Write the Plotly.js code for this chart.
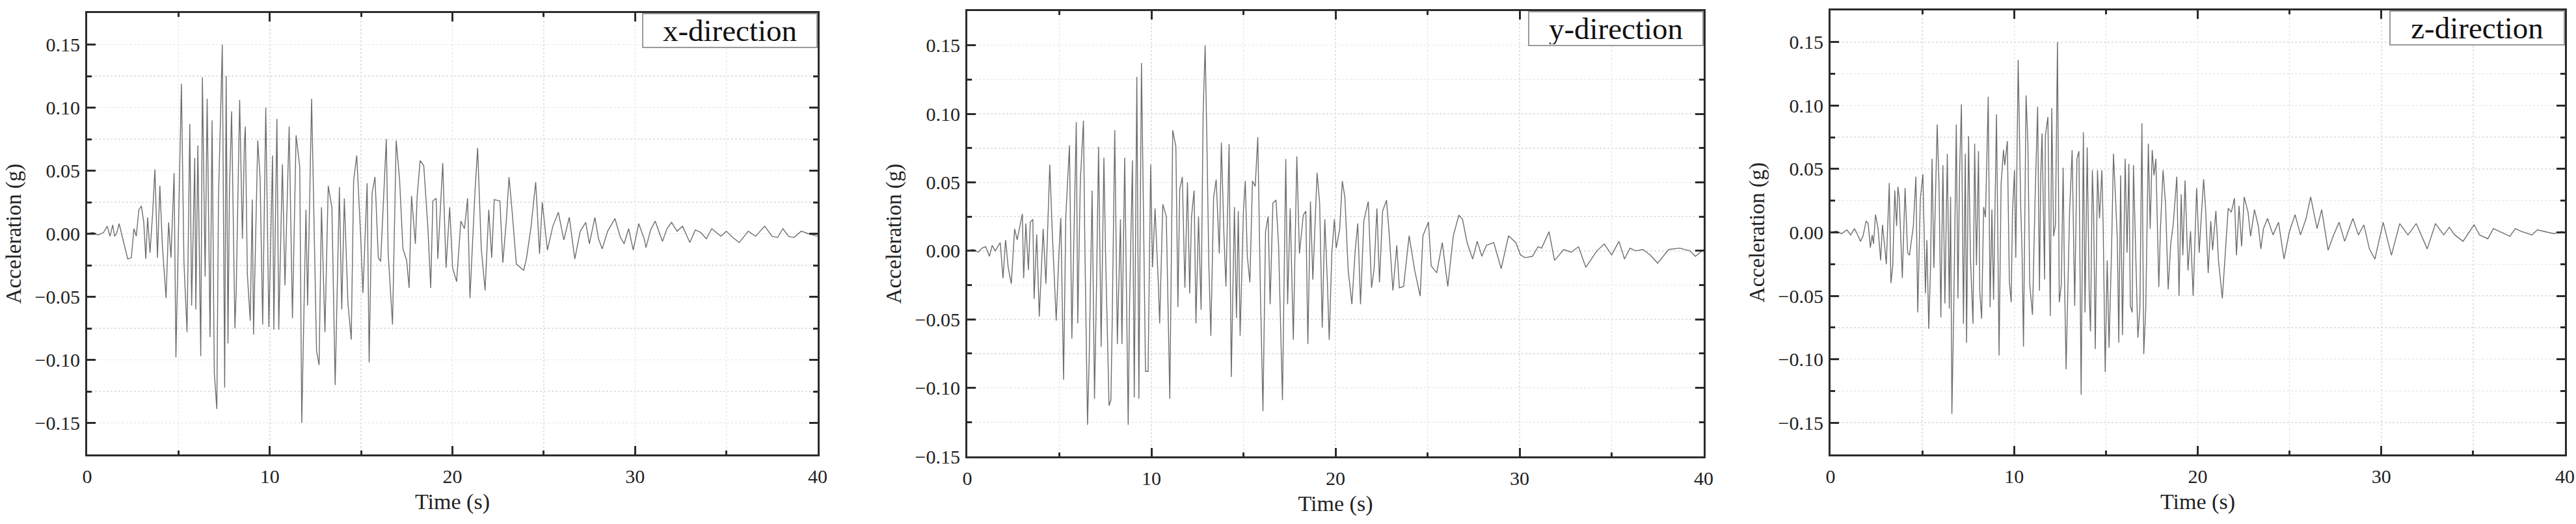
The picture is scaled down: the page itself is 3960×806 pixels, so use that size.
<!DOCTYPE html>
<html>
<head>
<meta charset="utf-8">
<script src="https://cdn.plot.ly/plotly-3.0.1.min.js"></script>
<style>html,body{margin:0;padding:0;background:#fff;}#chart{width:3960px;height:806px;}</style>
</head>
<body>
<div id="chart"></div>
<script>
// ---- Data (time in s, acceleration in g) ----
const tX = [0,0.3,0.6,0.9,1.1,1.25,1.4,1.5,1.61,1.75,1.95,2.22,2.42,2.56,2.69,2.83,2.97,3.10,3.21,3.31,3.44,3.58,3.71,3.85,3.98,4.12,4.32,4.46,4.59,4.76,4.86,4.97,5.16,5.30,5.47,5.62,5.72,5.89,5.95,6.06,6.22,6.31,6.46,6.57,6.73,6.84,6.96,7.10,7.19,7.40,7.53,7.61,7.71,7.79,7.91,8.09,8.16,8.35,8.50,8.61,8.66,8.77,8.93,9.04,9.11,9.34,9.47,9.61,9.78,9.95,10.15,10.22,10.39,10.49,10.69,10.83,11.06,11.24,11.44,11.64,11.75,11.98,12.07,12.29,12.45,12.56,12.70,12.83,13.02,13.20,13.40,13.58,13.81,13.94,14.08,14.28,14.46,14.59,14.76,14.97,15.10,15.33,15.44,15.60,15.76,15.94,16.07,16.27,16.38,16.48,16.72,16.92,17.11,17.29,17.49,17.63,17.76,17.97,18.07,18.23,18.43,18.66,18.81,18.93,19.11,19.20,19.47,19.65,19.85,20.01,20.23,20.46,20.66,20.83,20.96,21.23,21.38,21.58,21.79,21.99,22.15,22.29,22.60,22.76,22.95,23.10,23.25,23.50,23.90,24.05,24.30,24.56,24.77,24.92,25.20,25.50,25.80,26.10,26.40,26.70,27.00,27.30,27.50,27.80,28.00,28.20,28.50,28.90,29.20,29.40,29.65,29.90,30.20,30.50,30.60,30.85,31.10,31.50,31.75,32.00,32.30,32.60,33.00,33.30,33.60,33.90,34.20,34.70,35.00,35.35,35.70,36.20,36.60,37.10,37.50,37.80,38.10,38.40,38.70,39.10,39.50,40.0];
const aX = [0,0.001,-0.001,0.001,0.006,-0.002,0.007,-0.002,0.000,0.008,-0.004,-0.020,-0.019,0.004,-0.002,0.019,0.022,0.009,-0.020,0.013,-0.015,0.015,0.051,-0.019,0.038,-0.010,-0.051,0.009,-0.019,0.048,-0.098,-0.017,0.119,-0.023,-0.078,0.087,-0.057,0.060,-0.060,0.070,-0.097,0.124,-0.034,0.107,-0.082,0.090,-0.110,-0.139,0.028,0.150,-0.122,0.125,-0.087,0.034,0.097,-0.075,-0.046,0.106,-0.004,0.072,0.085,-0.032,-0.069,0.027,-0.080,0.074,0.044,-0.072,0.100,-0.074,0.062,-0.076,0.091,-0.076,0.055,-0.041,0.085,-0.067,0.078,0.053,-0.150,0.019,-0.057,0.107,-0.015,-0.093,-0.104,0.021,-0.078,0.038,0.021,-0.120,0.037,-0.060,0.028,-0.055,-0.084,0.042,0.062,0.000,-0.047,0.040,-0.102,0.032,0.045,-0.019,-0.022,0.041,0.075,-0.015,-0.072,0.074,0.042,-0.012,-0.021,-0.043,0.030,-0.008,0.030,0.058,0.054,0.004,-0.043,0.026,0.028,-0.020,0.056,-0.027,0.021,-0.027,-0.038,0.010,0.004,0.028,-0.051,0.032,0.068,-0.012,-0.045,0.019,-0.019,0.027,0.026,-0.023,0.010,0.045,0.021,-0.024,-0.029,-0.020,0.005,0.041,-0.016,0.025,-0.013,0.006,0.017,-0.005,0.013,-0.020,0.002,0.009,-0.008,0.013,-0.004,-0.012,0.002,0.012,-0.003,-0.008,0.004,-0.013,0.008,-0.004,-0.011,0.003,0.010,-0.006,0.004,0.009,0.002,0.006,-0.007,0.003,0.001,-0.004,0.004,-0.002,0.002,-0.003,-0.007,0.002,-0.002,0.006,-0.002,-0.003,0.004,-0.002,-0.003,0.002,0.000,-0.002];

const tY = [0,0.3,0.6,0.8,1.0,1.2,1.35,1.51,1.79,1.94,2.08,2.22,2.39,2.57,2.71,2.85,2.99,3.06,3.18,3.32,3.42,3.56,3.63,3.77,3.91,4.12,4.27,4.48,4.62,4.83,4.97,5.08,5.23,5.35,5.55,5.68,5.92,6.00,6.14,6.31,6.38,6.53,6.62,6.78,6.91,7.02,7.13,7.27,7.42,7.51,7.70,7.80,7.87,8.01,8.15,8.32,8.40,8.55,8.74,8.81,8.97,9.07,9.21,9.32,9.46,9.56,9.68,9.82,9.96,10.06,10.20,10.38,10.45,10.62,10.81,11.00,11.16,11.33,11.44,11.54,11.68,11.82,11.96,12.08,12.18,12.32,12.42,12.56,12.70,12.81,12.92,13.02,13.12,13.23,13.38,13.52,13.69,13.80,13.94,14.05,14.22,14.34,14.51,14.62,14.72,14.82,15.00,15.10,15.21,15.35,15.49,15.64,15.78,15.92,16.06,16.20,16.34,16.45,16.60,16.77,16.91,17.12,17.30,17.40,17.54,17.71,17.90,18.04,18.25,18.39,18.50,18.64,18.77,19.00,19.14,19.28,19.42,19.56,19.66,19.80,19.94,20.04,20.23,20.37,20.51,20.69,20.89,21.07,21.21,21.36,21.54,21.78,21.96,22.10,22.25,22.39,22.56,22.77,22.91,23.12,23.33,23.47,23.70,24.00,24.30,24.60,24.75,25.05,25.20,25.50,25.80,26.10,26.40,26.70,26.90,27.15,27.45,27.70,27.95,28.20,28.60,29.00,29.40,29.80,30.05,30.30,30.70,31.00,31.20,31.60,31.90,32.40,32.80,33.20,33.60,34.20,34.60,35.00,35.40,35.70,36.00,36.30,36.70,37.10,37.50,38.10,38.70,39.25,39.55,40.0];
const aY = [0,0.001,-0.001,0.002,0.003,-0.004,0.004,0.000,0.006,-0.020,0.008,-0.012,-0.024,0.016,0.008,0.018,0.027,-0.020,0.020,-0.014,0.021,0.023,-0.035,0.012,-0.048,0.016,-0.024,0.063,0.012,-0.051,-0.004,0.024,-0.094,0.025,0.077,-0.064,0.094,-0.053,0.051,0.095,0.010,-0.127,-0.080,0.044,-0.108,-0.025,0.076,-0.070,0.068,-0.002,-0.113,-0.109,-0.053,0.088,-0.068,0.023,-0.068,0.068,-0.127,-0.043,0.066,-0.107,0.127,-0.108,0.137,0.037,-0.088,-0.088,0.063,-0.012,0.031,-0.025,-0.053,0.034,0.025,-0.108,0.088,0.076,-0.041,0.045,0.054,-0.027,0.050,-0.031,0.025,0.044,-0.053,0.025,-0.043,0.100,0.150,0.076,-0.010,-0.062,0.039,0.052,-0.002,0.079,0.012,-0.026,0.078,-0.092,0.032,-0.049,0.029,-0.062,0.029,0.051,-0.004,-0.023,0.051,0.047,0.083,-0.029,-0.117,0.014,0.025,-0.039,0.035,0.037,0.004,-0.109,0.067,-0.039,0.031,-0.065,0.069,-0.002,0.026,0.029,-0.068,0.036,-0.021,0.057,0.035,-0.056,0.023,-0.023,-0.065,-0.002,0.023,0.002,0.016,0.051,0.039,-0.014,-0.039,0.000,0.020,-0.039,0.022,0.036,-0.027,-0.013,0.031,-0.023,0.029,0.037,0.014,-0.029,0.004,-0.027,-0.026,0.011,-0.014,-0.033,0.011,0.021,-0.011,-0.016,0.006,-0.026,0.011,0.026,0.023,0.006,-0.006,0.007,-0.004,0.004,0.006,-0.013,0.011,0.006,-0.003,-0.005,-0.004,0.003,0.002,0.014,-0.007,0.001,-0.001,0.003,-0.012,0.000,0.005,-0.003,0.007,-0.006,0.002,0.000,0.001,-0.003,-0.009,0.001,0.002,0.000,-0.004,0.001];

const tZ = [0,0.3,0.6,0.9,1.1,1.3,1.45,1.63,1.77,1.94,2.05,2.17,2.27,2.34,2.45,2.59,2.73,2.83,2.97,3.04,3.20,3.29,3.39,3.50,3.60,3.67,3.74,3.91,4.06,4.20,4.30,4.41,4.51,4.65,4.75,4.89,5.03,5.17,5.25,5.35,5.45,5.53,5.63,5.70,5.81,5.91,6.01,6.12,6.23,6.36,6.47,6.54,6.61,6.71,6.85,6.94,7.03,7.13,7.24,7.34,7.41,7.52,7.62,7.76,7.85,7.95,8.06,8.13,8.23,8.34,8.44,8.59,8.69,8.79,8.88,9.04,9.18,9.29,9.42,9.49,9.63,9.74,9.84,9.91,10.02,10.09,10.22,10.36,10.43,10.51,10.65,10.75,10.85,11.00,11.14,11.28,11.38,11.45,11.52,11.66,11.70,11.84,11.97,12.05,12.15,12.25,12.36,12.46,12.57,12.67,12.74,12.83,12.92,13.02,13.16,13.30,13.42,13.53,13.65,13.77,13.86,13.98,14.09,14.16,14.26,14.33,14.42,14.54,14.65,14.78,14.85,14.96,15.07,15.17,15.31,15.41,15.52,15.62,15.70,15.80,15.90,15.97,16.05,16.15,16.25,16.33,16.43,16.50,16.64,16.74,16.85,16.96,17.06,17.17,17.31,17.41,17.52,17.62,17.72,17.79,17.88,17.97,18.11,18.25,18.39,18.53,18.67,18.86,18.98,19.10,19.19,19.31,19.47,19.61,19.75,19.94,20.08,20.18,20.32,20.43,20.57,20.71,20.81,20.99,21.13,21.34,21.55,21.66,21.83,22.00,22.11,22.25,22.39,22.53,22.74,22.88,23.09,23.30,23.44,23.58,23.80,24.10,24.40,24.70,25.00,25.30,25.60,25.90,26.15,26.50,26.75,27.10,27.40,27.70,28.00,28.45,28.75,29.05,29.35,29.65,30.10,30.55,31.00,31.45,31.90,32.50,32.95,33.40,33.70,34.00,34.45,35.05,35.35,35.80,36.10,36.40,37.00,37.30,37.60,38.20,38.50,38.80,39.40,39.85];
const aZ = [0,0.001,-0.001,0.002,-0.002,0.003,-0.001,-0.007,-0.003,0.009,0.007,-0.012,-0.002,-0.009,0.014,0.003,-0.022,0.006,-0.014,-0.025,0.039,-0.040,-0.026,0.033,0.005,0.036,0.028,-0.036,0.035,-0.016,-0.018,-0.005,0.005,0.044,-0.063,0.026,0.046,-0.048,-0.006,-0.076,-0.026,0.058,-0.028,0.018,0.085,0.037,-0.067,0.053,-0.056,0.062,-0.060,0.028,-0.143,-0.062,0.085,-0.052,0.048,0.101,-0.072,0.062,-0.087,0.076,-0.020,-0.072,0.070,-0.026,0.064,-0.047,-0.068,0.020,0.012,0.107,-0.059,0.018,-0.053,0.093,-0.097,0.038,0.065,0.053,0.072,-0.039,-0.055,0.016,0.049,-0.020,0.136,0.020,-0.014,-0.090,0.108,0.070,-0.041,-0.065,0.026,0.099,-0.046,0.045,0.078,-0.037,0.076,0.091,-0.066,0.098,-0.003,0.006,0.150,-0.055,-0.041,0.051,-0.034,-0.108,-0.047,0.016,0.065,-0.058,0.058,0.064,-0.128,0.079,-0.063,0.067,-0.048,-0.078,0.049,0.016,-0.092,0.049,0.011,0.049,0.005,-0.110,-0.022,-0.091,-0.011,0.062,0.028,-0.005,-0.087,0.045,-0.081,-0.016,0.058,-0.016,0.054,-0.058,-0.063,0.053,-0.022,-0.083,-0.060,0.086,-0.096,-0.060,0.070,0.003,0.065,0.045,0.058,0.011,-0.043,0.003,0.049,0.022,-0.045,-0.009,0.007,0.044,-0.050,0.030,-0.018,0.041,-0.030,0.001,-0.050,0.035,-0.016,0.009,0.042,0.018,-0.032,0.009,-0.014,0.017,-0.022,-0.052,-0.005,0.019,0.016,0.027,-0.018,0.021,-0.011,0.028,0.016,-0.003,0.018,0.005,-0.013,0.003,0.011,-0.002,0.008,-0.021,0.001,0.014,-0.002,0.011,0.028,0.003,0.018,-0.014,-0.002,0.008,-0.007,0.011,-0.002,0.006,-0.013,-0.021,0.008,-0.018,0.007,-0.002,0.007,-0.013,0.007,-0.002,0.004,-0.002,-0.007,0.006,-0.002,-0.005,0.003,0.001,-0.003,0.003,0.001,-0.002,0.002,0.001,-0.001,0.001];

const labels = ['x-direction','y-direction','z-direction'];
const yRanges = [[-0.175,0.175],[-0.15,0.175],[-0.175,0.175]];
const xTickVals = [0,10,20,30,40];

// ---- Layout ----
const W = 3960, H = 806;
const panels = [
  {x0:134, x1:1257, y0:20, y1:699},
  {x0:1487, x1:2619, y0:17, y1:702},
  {x0:2814, x1:3943, y0:16, y1:699}
];
const series = [[tX,aX],[tY,aY],[tZ,aZ]];
const serif = 'Liberation Serif, Times New Roman, serif';
const data = [];
const layout = {
  width: W, height: H,
  margin: {l:0, r:0, t:0, b:0},
  paper_bgcolor: '#fff', plot_bgcolor: '#fff',
  showlegend: false,
  font: {family: serif, color: '#222'},
  annotations: []
};
panels.forEach((p, i) => {
  const n = i === 0 ? '' : String(i + 1);
  data.push({
    type: 'scatter', mode: 'lines',
    x: series[i][0], y: series[i][1],
    xaxis: 'x' + n, yaxis: 'y' + n,
    line: {color: '#6e6e6e', width: 1.4}
  });
  const common = {
    showline: true, mirror: 'ticks', linecolor: '#2b2b2b', linewidth: 3,
    ticks: 'inside', tickcolor: '#2b2b2b', tickwidth: 3,
    showgrid: true, gridcolor: '#e2e2e2', gridwidth: 1.5, griddash: 'dot',
    zeroline: false,
    tickfont: {family: serif, size: 30, color: '#222'}
  };
  layout['xaxis' + n] = Object.assign({}, common, {
    domain: [p.x0 / W, p.x1 / W], anchor: 'y' + n,
    range: [0, 40], tickvals: xTickVals, ticklen: 13, ticklabelstandoff: 5,
    minor: {dtick: 5, tick0: 0, ticks: 'inside', ticklen: 6, tickwidth: 3, tickcolor: '#2b2b2b',
            showgrid: true, gridcolor: '#e2e2e2', gridwidth: 1.5, griddash: 'dot'},
    title: {text: 'Time (s)', font: {family: serif, size: 34, color: '#222'}, standoff: 12}
  });
  layout['yaxis' + n] = Object.assign({}, common, {
    domain: [1 - p.y1 / H, 1 - p.y0 / H], anchor: 'x' + n,
    range: yRanges[i], dtick: 0.05, tick0: 0, tickformat: '.2f', ticklen: 13, ticklabelstandoff: 2,
    minor: {dtick: 0.025, tick0: 0, ticks: 'inside', ticklen: 7, tickwidth: 3, tickcolor: '#2b2b2b',
            showgrid: true, gridcolor: '#e2e2e2', gridwidth: 1.5, griddash: 'dot'},
    title: {text: 'Acceleration (g)', font: {family: serif, size: 33, color: '#222'}, standoff: 12}
  });
  layout.annotations.push({
    xref: 'x' + n + ' domain', yref: 'y' + n + ' domain',
    x: 1, y: 1, xanchor: 'right', yanchor: 'top',
    text: labels[i], showarrow: false,
    font: {family: serif, size: 47, color: '#111'},
    bgcolor: '#fff', bordercolor: '#9a9a9a', borderwidth: 2, borderpad: 1,
    width: 264, height: 48, align: 'center'
  });
});
Plotly.newPlot('chart', data, layout, {staticPlot: true, displayModeBar: false});
</script>
</body>
</html>
